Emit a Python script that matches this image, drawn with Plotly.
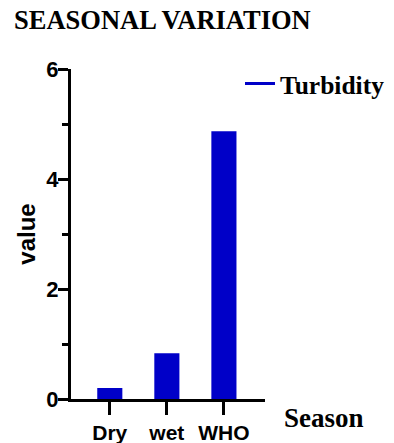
import plotly.graph_objects as go

categories = ["Dry", "wet", "WHO"]
turbidity = [0.2, 0.83, 4.87]
y_ticks = [0, 2, 4, 6]

blue = "#0000C8"
sans = "Liberation Sans"
serif = "Liberation Serif"

# the page body adds an 8px offset; layout numbers below compensate for it
W, H = 394, 443
L, T, B, R = 63, 61, 52, 137
PW, PH = W - L - R, H - T - B

fig = go.Figure()
fig.add_trace(go.Bar(x=categories, y=turbidity, marker=dict(color=blue, line=dict(width=0)),
                     width=0.44, showlegend=False, name="Turbidity"))
fig.add_trace(go.Scatter(x=[None], y=[None], mode="lines", line=dict(color=blue, width=3),
                         name="<b>Turbidity</b>", showlegend=True))

fig.update_layout(
    width=W, height=H,
    margin=dict(l=L, r=R, t=T, b=B, autoexpand=False),
    plot_bgcolor="white", paper_bgcolor="white",
    title=dict(text="<b>SEASONAL VARIATION</b>", x=6/W, xanchor="left", xref="container",
               y=1-12/H, yanchor="middle", yref="container", pad=dict(t=0, b=0, l=0, r=0),
               font=dict(family=serif, size=26.5, color="black", weight="bold")),
    legend=dict(x=(240 - 8 - L) / PW, xanchor="left", y=1 - (84 - 8 - T) / PH, yanchor="middle",
                font=dict(family=serif, size=25.5, color="black", weight="bold"), bgcolor="rgba(0,0,0,0)"),
)
fig.update_xaxes(range=[-0.68, 2.72], showline=True, linecolor="black", linewidth=3,
                 ticks="outside", ticklen=13, tickwidth=3, tickcolor="black",
                 tickfont=dict(family=sans, size=21, color="black", weight="bold"),
                 showgrid=False, zeroline=False, automargin=False, fixedrange=True)
fig.update_yaxes(range=[0, 6], tickvals=y_ticks, showline=True, linecolor="black", linewidth=3,
                 ticks="outside", ticklen=10, tickwidth=3, tickcolor="black",
                 tickfont=dict(family=sans, size=22, color="black", weight="bold"),
                 ticklabelstandoff=-5,
                 minor=dict(dtick=1, ticks="outside", ticklen=6, tickwidth=3, tickcolor="black", showgrid=False),
                 showgrid=False, zeroline=False, automargin=False, fixedrange=True,
                 title=dict(text="<b>value</b>", font=dict(family=sans, size=24, color="black", weight="bold"),
                            standoff=4))
fig.add_annotation(text="<b>Season</b>", xref="paper", yref="paper", x=(282 - 8 - L) / PW,
                   y=-(418 - 8 - (T + PH)) / PH,
                   xanchor="left", yanchor="middle", showarrow=False,
                   font=dict(family=serif, size=27, color="black", weight="bold"))
fig.write_html("out.html")
